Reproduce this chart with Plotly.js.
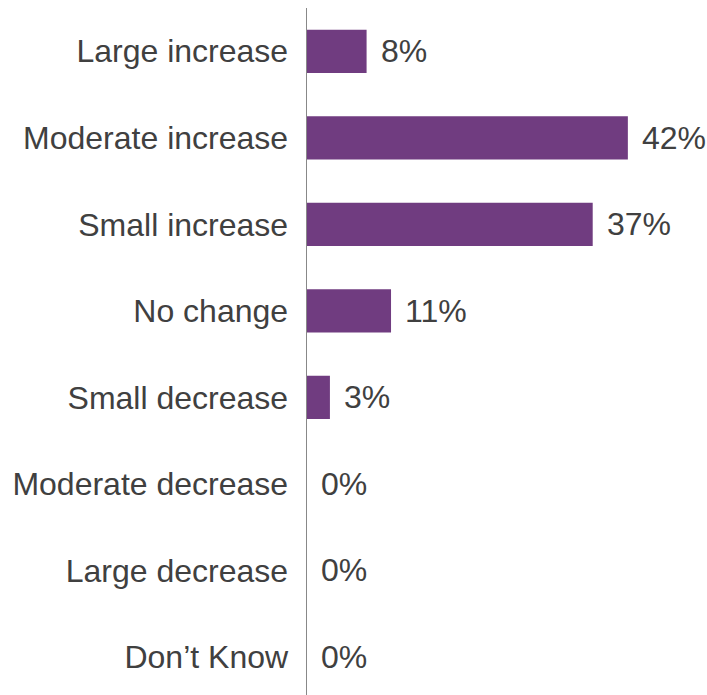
<!DOCTYPE html>
<html>
<head>
<meta charset="utf-8">
<script src="https://cdn.plot.ly/plotly-3.0.1.min.js"></script>
<style>
  html, body { margin: 0; padding: 0; background: #ffffff; }
  #chart { width: 707px; height: 695px; }
</style>
</head>
<body>
<div id="chart"></div>
<script>
// Categories (top to bottom)
const categories = [
  "Large increase",
  "Moderate increase",
  "Small increase",
  "No change",
  "Small decrease",
  "Moderate decrease",
  "Large decrease",
  "Don\u2019t Know"
];
// Percent of respondents
const values = [7.8, 42.0, 37.4, 11.0, 3.0, 0, 0, 0];
// Displayed labels
const labels = values.map(v => Math.round(v) + "%");

const textColor = "#404040";
const fontFamily = "Liberation Sans, Arial, sans-serif";

const trace = {
  type: "bar",
  orientation: "h",
  y: categories,
  x: values,
  width: 0.5,
  marker: { color: "#703c80", line: { width: 0 } },
  hoverinfo: "skip"
};

const annotations = categories.map((c, i) => ({
  x: values[i],
  y: c,
  xref: "x",
  yref: "y",
  text: labels[i],
  showarrow: false,
  xanchor: "left",
  yanchor: "middle",
  xshift: 12,
  font: { family: fontFamily, size: 32, color: textColor }
}));

const layout = {
  width: 707,
  height: 695,
  margin: { l: 307, r: 0, t: 8, b: 0, pad: 0 },
  paper_bgcolor: "#ffffff",
  plot_bgcolor: "#ffffff",
  showlegend: false,
  font: { family: fontFamily, size: 32, color: textColor },
  xaxis: {
    range: [0, 52.36],
    showgrid: false,
    zeroline: false,
    showline: false,
    showticklabels: false,
    ticks: ""
  },
  yaxis: {
    type: "category",
    categoryorder: "array",
    categoryarray: categories,
    range: [7.44, -0.5],
    showgrid: false,
    zeroline: false,
    showline: true,
    linecolor: "#888888",
    linewidth: 1.5,
    ticks: "",
    ticklabelstandoff: 11,
    tickfont: { family: fontFamily, size: 32, color: textColor }
  },
  annotations: annotations,
  bargap: 0.5
};

Plotly.newPlot("chart", [trace], layout, { displayModeBar: false, staticPlot: true });
</script>
</body>
</html>
